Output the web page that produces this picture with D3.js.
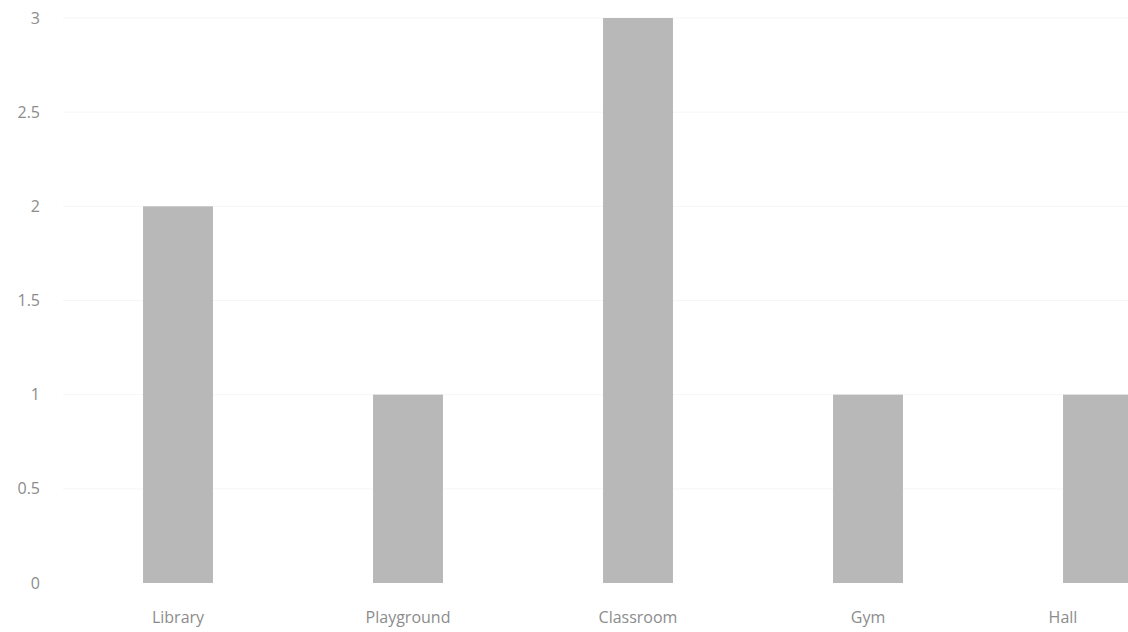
<!DOCTYPE html>
<html lang="en">
<head>
    <meta charset="UTF-8">
    <title>Room Counts</title>
    <script src="https://d3js.org/d3.v7.min.js"></script>
    <style>
        body {
            margin: 0;
            background: #ffffff;
            overflow: hidden;
        }

        svg {
            display: block;
            font-family: "Open Sans", "Liberation Sans", sans-serif;
        }

        .tick-label {
            fill: #8c8c8c;
            font-size: 16px;
        }
    </style>
</head>
<body>
    <div id="chart"></div>
    <script>
        const categories = ["Library", "Playground", "Classroom", "Gym", "Hall"];
        const values = [2, 1, 3, 1, 1];
        const yTicks = [0, 0.5, 1, 1.5, 2, 2.5, 3];

        const W = 1128, H = 632;

        const svg = d3.select("#chart")
            .append("svg")
            .attr("width", W)
            .attr("height", H);

        // plot runs past the right edge, the last bar is cut like in the original
        const x = d3.scaleBand()
            .domain(categories)
            .range([63, 1213])
            .paddingInner(0.696)
            .paddingOuter(0.348);

        const y = d3.scaleLinear()
            .domain([0, 3])
            .range([583, 18]);

        // very faint gridlines
        svg.append("g")
            .selectAll("line")
            .data(yTicks.filter(d => d > 0))
            .enter()
            .append("line")
            .attr("x1", 63)
            .attr("x2", W)
            .attr("y1", d => y(d))
            .attr("y2", d => y(d))
            .attr("stroke", "#f6f6f6")
            .attr("stroke-width", 1);

        svg.append("g")
            .selectAll("rect")
            .data(values)
            .enter()
            .append("rect")
            .attr("x", (d, i) => x(categories[i]))
            .attr("y", d => y(d))
            .attr("width", x.bandwidth())
            .attr("height", d => y(0) - y(d))
            .attr("fill", "#b8b8b8");

        svg.append("g")
            .selectAll("text")
            .data(yTicks)
            .enter()
            .append("text")
            .attr("class", "tick-label")
            .attr("x", 40)
            .attr("y", d => y(d))
            .attr("dy", "0.35em")
            .attr("text-anchor", "end")
            .text(d => d);

        svg.append("g")
            .selectAll("text")
            .data(categories)
            .enter()
            .append("text")
            .attr("class", "tick-label")
            // keep the last label inside the visible area
            .attr("x", d => Math.min(x(d) + x.bandwidth() / 2, W - 65))
            .attr("y", 617)
            .attr("dy", "0.35em")
            .attr("text-anchor", "middle")
            .text(d => d);
    </script>
</body>
</html>
